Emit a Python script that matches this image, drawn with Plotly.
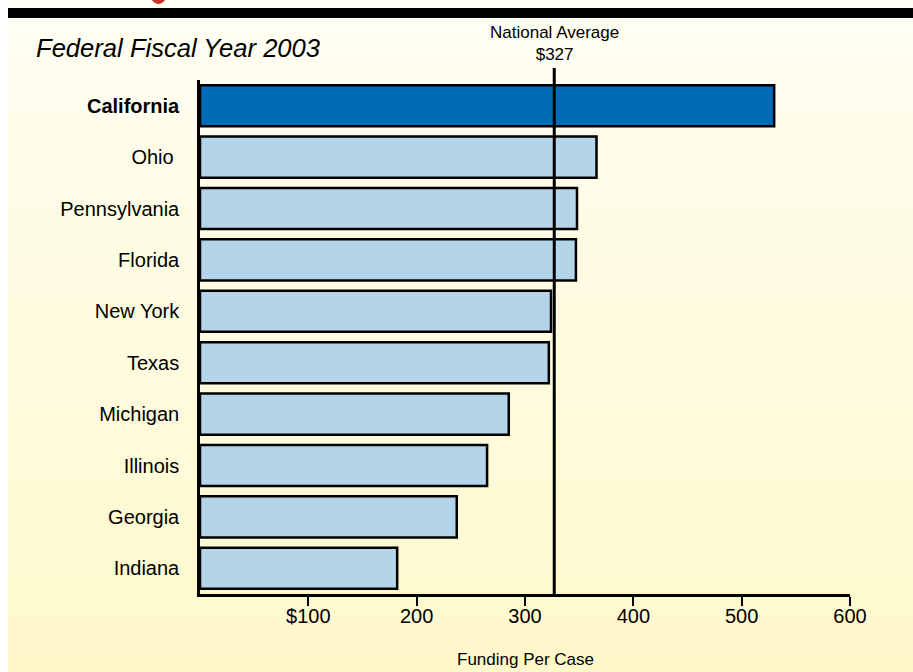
import plotly.graph_objects as go

# Funding per case by state, federal fiscal year 2003
states = ["California", "Ohio", "Pennsylvania", "Florida", "New York",
          "Texas", "Michigan", "Illinois", "Georgia", "Indiana"]
funding = [530, 366, 348, 347, 324, 322, 285, 265, 237, 182]
national_average = 327

x_tick_values = [100, 200, 300, 400, 500, 600]
x_tick_labels = ["$100", "200", "300", "400", "500", "600"]

highlight_state = "California"
bar_colors = ["#006BB6" if s == highlight_state else "#B4D4E9" for s in states]
state_labels = ["<b>%s</b>" % s if s == highlight_state else
                (s + "\u00a0" if s == "Ohio" else s) for s in states]

W, H = 913, 672
ML, MR, MT, MB = 200, 63, 80, 78
PW, PH = W - ML - MR, H - MT - MB


def px_to_paper_x(px):
    return (px - ML) / PW


def px_to_paper_y(py):
    return (H - MB - py) / PH


fig = go.Figure()
fig.add_trace(go.Bar(
    y=states, x=funding, orientation="h",
    marker=dict(color=bar_colors, line=dict(color="black", width=2.5)),
    hoverinfo="x+y",
))

shapes = []
# soft cream-to-yellow page background, drawn as thin horizontal bands
n_bands = 84
top_rgb = (255, 254, 243)
bot_rgb = (255, 248, 203)
for i in range(n_bands):
    t = i / (n_bands - 1)
    r = round(top_rgb[0] + (bot_rgb[0] - top_rgb[0]) * t)
    g = round(top_rgb[1] + (bot_rgb[1] - top_rgb[1]) * t)
    b = round(top_rgb[2] + (bot_rgb[2] - top_rgb[2]) * t)
    y0 = H * i / n_bands
    y1 = H * (i + 1) / n_bands + 1
    shapes.append(dict(
        type="rect", xref="paper", yref="paper", layer="below",
        x0=px_to_paper_x(8), x1=px_to_paper_x(W + 2),
        y0=px_to_paper_y(y1), y1=px_to_paper_y(y0),
        fillcolor="rgb(%d,%d,%d)" % (r, g, b), line=dict(width=0),
    ))

# black header rule
shapes.append(dict(
    type="rect", xref="paper", yref="paper", layer="above",
    x0=px_to_paper_x(8), x1=px_to_paper_x(W + 2),
    y0=px_to_paper_y(18), y1=px_to_paper_y(8),
    fillcolor="black", line=dict(width=0),
))

# red headline glyph tail peeking in at the very top edge
gx0, gx1, gy = px_to_paper_x(151), px_to_paper_x(166), px_to_paper_y(-1)
gmid = px_to_paper_x(158.5)
shapes.append(dict(
    type="path", xref="paper", yref="paper", layer="above",
    path="M %f,%f Q %f,%f %f,%f Z" % (gx0, gy, gmid, px_to_paper_y(9), gx1, gy),
    fillcolor="#C8332B", line=dict(width=0),
))

# national average reference line
shapes.append(dict(
    type="line", xref="x", yref="paper", layer="above",
    x0=national_average, x1=national_average,
    y0=0, y1=px_to_paper_y(68),
    line=dict(color="black", width=3),
))

annotations = [
    dict(text="Federal Fiscal Year 2003", xref="paper", yref="paper",
         x=px_to_paper_x(34), y=px_to_paper_y(48), xanchor="left", yanchor="middle",
         showarrow=False,
         font=dict(family="Liberation Sans", size=25.6, color="black", style="italic")),
    dict(text="National Average<br>$327", xref="x", yref="paper",
         x=national_average, y=px_to_paper_y(66), xanchor="center", yanchor="bottom",
         showarrow=False, align="center",
         font=dict(family="Liberation Sans", size=17, color="black")),
    dict(text="Funding Per Case", xref="x", yref="paper",
         x=300, y=px_to_paper_y(659), xanchor="center", yanchor="middle",
         showarrow=False,
         font=dict(family="Liberation Sans", size=17, color="black")),
]

fig.update_layout(
    width=W, height=H,
    margin=dict(l=ML, r=MR, t=MT, b=MB, pad=0, autoexpand=False),
    paper_bgcolor="white",
    plot_bgcolor="rgba(0,0,0,0)",
    showlegend=False,
    bargap=0.2,
    shapes=shapes,
    annotations=annotations,
    font=dict(family="Liberation Sans", color="black"),
    xaxis=dict(
        range=[0, 600], tickvals=x_tick_values, ticktext=x_tick_labels,
        showgrid=False, zeroline=False, showline=True, linecolor="black", linewidth=2.5,
        ticks="outside", ticklen=9, tickwidth=2, tickcolor="black",
        ticklabelstandoff=-7,
        tickfont=dict(family="Liberation Sans", size=20, color="black"),
        automargin=False, fixedrange=True,
    ),
    yaxis=dict(
        type="category", categoryorder="array", categoryarray=states,
        tickvals=states, ticktext=state_labels,
        range=[9.5, -0.5],
        showgrid=False, zeroline=False, showline=True, linecolor="black", linewidth=2.5,
        ticks="", ticklabelstandoff=14,
        tickfont=dict(family="Liberation Sans", size=20, color="black"),
        automargin=False, fixedrange=True,
    ),
)

fig.write_html("out.html")
